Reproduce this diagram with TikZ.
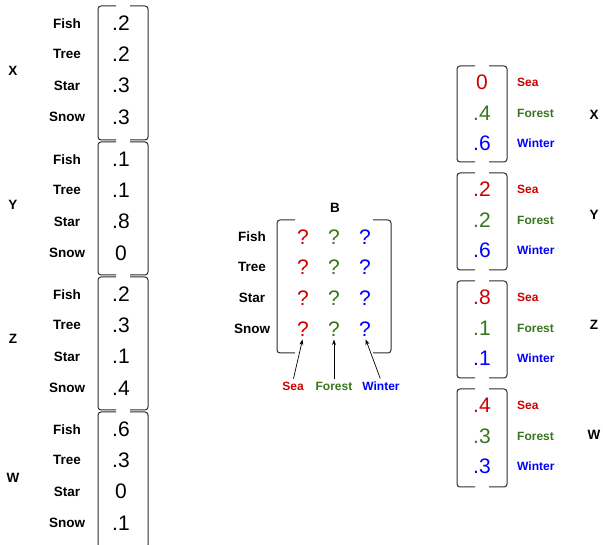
\documentclass[tikz,border=0pt]{standalone}
\usepackage{fontspec}
\setmainfont{Liberation Sans}
\usetikzlibrary{arrows.meta}
\definecolor{seared}{RGB}{204,0,0}
\definecolor{forestgreen}{RGB}{56,118,29}
\definecolor{winterblue}{RGB}{0,0,255}
\definecolor{bracketgray}{RGB}{45,45,45}

% a pair of square brackets: left x, right x, top y, bottom y
\newcommand\drawbracketpair[4]{%
  \draw[brk] (#1+18,#3) -- (#1,#3) -- (#1,#4) -- (#1+18,#4);
  \draw[brk] (#2-18,#3) -- (#2,#3) -- (#2,#4) -- (#2-18,#4);}

\begin{document}
\begin{tikzpicture}[x=1pt,y=-1pt,
  rowlbl/.style={font=\fontsize{13.5}{16}\selectfont\bfseries, inner sep=1pt},
  catlbl/.style={font=\fontsize{12}{14}\selectfont\bfseries, inner sep=1pt},
  veclbl/.style={font=\fontsize{13.5}{16}\selectfont\bfseries, inner sep=1pt},
  val/.style={font=\fontsize{21}{25}\selectfont, inner sep=1pt},
  brk/.style={draw=bracketgray, line width=1pt, rounded corners=3pt},
  pointer/.style={draw=black, line width=0.7pt, -{Stealth[length=5.5pt,width=4pt]}},
]
\useasboundingbox (0,0) rectangle (603,545);

% ---------- left column: word distributions of X, Y, Z, W ----------
\drawbracketpair{98}{148}{6}{140}
\drawbracketpair{98}{148}{142}{275}
\drawbracketpair{98}{148}{277}{410}
\drawbracketpair{98}{148}{412}{548}

\foreach \blk/\top/\name/\vy/\a/\b/\c/\d in
  {x/6/X/71/.2/.2/.3/.3, y/142/Y/205/.1/.1/.8/0,
   z/277/Z/339/.2/.3/.1/.4, w/412/W/478/.6/.3/0/.1}{
  \node[veclbl] (L\blk) at (13,\vy) {\name};
  \node[rowlbl] (L\blk fish) at (67,\top+18) {Fish};
  \node[rowlbl] (L\blk tree) at (67,\top+48) {Tree};
  \node[rowlbl] (L\blk star) at (67,\top+80) {Star};
  \node[rowlbl] (L\blk snow) at (67,\top+111) {Snow};
  \node[val] (L\blk v1) at (121,\top+17) {\a};
  \node[val] (L\blk v2) at (121,\top+48) {\b};
  \node[val] (L\blk v3) at (121,\top+79) {\c};
  \node[val] (L\blk v4) at (121,\top+111) {\d};
}

% ---------- middle: the unknown matrix B ----------
\node[veclbl] (B) at (335,208) {B};
\drawbracketpair{277}{391}{220}{353}
\foreach \r/\lbl/\yy in {1/Fish/237, 2/Tree/267, 3/Star/298, 4/Snow/329}{
  \node[rowlbl] (Brow\r) at (252,\yy) {\lbl};
  \node[val, text=seared] (Bq\r1) at (303,\yy) {?};
  \node[val, text=forestgreen] (Bq\r2) at (334,\yy) {?};
  \node[val, text=winterblue] (Bq\r3) at (365,\yy) {?};
}
\node[catlbl, text=seared] (Bsea) at (293,386) {Sea};
\node[catlbl, text=forestgreen] (Bforest) at (334,386) {Forest};
\node[catlbl, text=winterblue] (Bwinter) at (381,386) {Winter};
\draw[pointer, shorten <=2pt, shorten >=2pt] (Bsea.north) -- (Bq41.south);
\draw[pointer, shorten <=2pt, shorten >=2pt] (Bforest.north) -- (Bq42.south);
\draw[pointer, shorten <=2pt, shorten >=2pt] (Bwinter.north) -- (Bq43.south);

% ---------- right column: topic mixtures of X, Y, Z, W ----------
\drawbracketpair{457}{507}{66}{162}
\drawbracketpair{457}{507}{173}{270}
\drawbracketpair{457}{507}{281}{378}
\drawbracketpair{457}{507}{389}{487}

\foreach \blk/\top/\name/\vy/\a/\b/\c in
  {x/66/X/115/0/.4/.6, y/173/Y/215/.2/.2/.6,
   z/281/Z/325/.8/.1/.1, w/389/W/435/.4/.3/.3}{
  \node[veclbl] (R\blk) at (594,\vy) {\name};
  \node[val, text=seared] (R\blk v1) at (482,\top+16) {\a};
  \node[val, text=forestgreen] (R\blk v2) at (482,\top+47) {\b};
  \node[val, text=winterblue] (R\blk v3) at (482,\top+77) {\c};
  \node[catlbl, text=seared, anchor=west] (R\blk sea) at (516,\top+16) {Sea};
  \node[catlbl, text=forestgreen, anchor=west] (R\blk forest) at (516,\top+47) {Forest};
  \node[catlbl, text=winterblue, anchor=west] (R\blk winter) at (516,\top+77) {Winter};
}
\end{tikzpicture}
\end{document}
